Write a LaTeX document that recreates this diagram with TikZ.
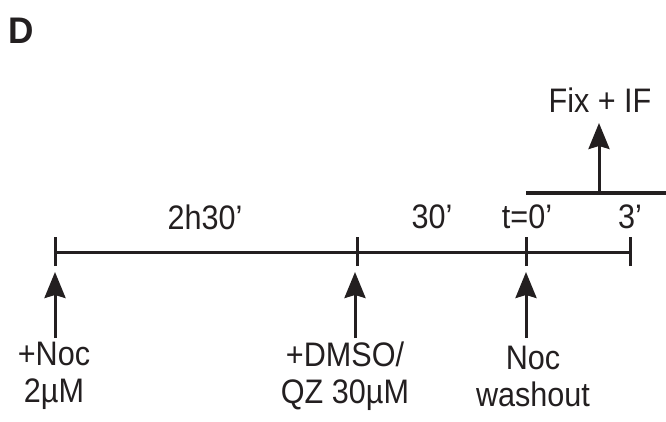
\documentclass[tikz,border=0pt]{standalone}
\usepackage{fontspec}
\setmainfont{Liberation Sans}[FakeStretch=0.9]
\newfontfamily\headfont{Liberation Sans}[FakeStretch=0.95]
\usetikzlibrary{arrows.meta}
\definecolor{ink}{RGB}{35,31,32}
\begin{document}
\begin{tikzpicture}[x=1pt,y=-1pt,
  line/.style={line width=3pt,draw=ink},
  arr/.style={line width=3pt,draw=ink,-{Stealth[width=21pt,length=26pt,inset=3pt]}},
  lbl/.style={font=\fontsize{34}{37}\selectfont,text=ink,inner sep=0pt,align=center}]
\useasboundingbox (0,0) rectangle (666,422);
\node[font=\headfont\fontsize{37}{37}\selectfont\bfseries,text=ink,inner sep=0pt] (D) at (21,31) {D};
% timeline ticks
\coordinate (t1) at (55,252);
\coordinate (t2) at (357,252);
\coordinate (t3) at (526,252);
\coordinate (t4) at (630,252);
\draw[line] (t1) -- (t4);
\foreach \t in {t1,t2,t3,t4} \draw[line] ([yshift=-14pt]\t) -- ([yshift=15pt]\t);
% labels above
\node[lbl] (l1) at (205,217) {2h30’};
\node[lbl] (l2) at (432,217) {30’};
\node[lbl] (l3) at (527,217) {t=0’};
\node[lbl] (l4) at (630,217) {3’};
% upper line
\coordinate (u1) at (526,193);
\coordinate (u2) at (666,193);
\coordinate (um) at (599,193);
\coordinate (ut) at (599,123);
\draw[line] (u1) -- (u2);
\draw[arr] (um) -- (ut);
\node[lbl] (fix) at (600,100) {Fix + IF};
% bottom arrows
\coordinate (a1s) at (55,338);  \coordinate (a1e) at (55,272);
\coordinate (a2s) at (355,338); \coordinate (a2e) at (355,272);
\coordinate (a3s) at (526,338); \coordinate (a3e) at (526,272);
\draw[arr] (a1s) -- (a1e);
\draw[arr] (a2s) -- (a2e);
\draw[arr] (a3s) -- (a3e);
\node[lbl] (b1) at (54,376) {+Noc\\2µM};
\node[lbl] (b2) at (345,376) {+DMSO/\\QZ 30µM};
\node[lbl] (b3) at (533,376) {Noc\\washout};
\end{tikzpicture}
\end{document}
